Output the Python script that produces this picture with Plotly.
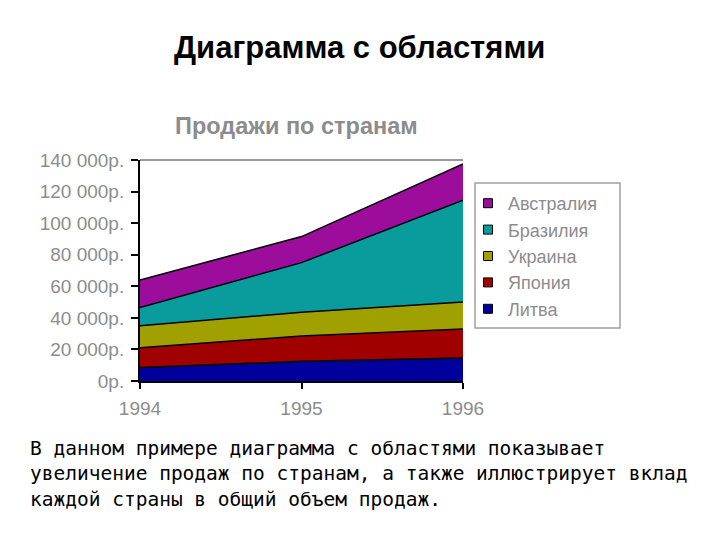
import plotly.graph_objects as go

years = [1994, 1995, 1996]
countries = ["Литва", "Япония", "Украина", "Бразилия", "Австралия"]
litva = [8500, 12500, 14500]
japan = [12500, 16000, 18500]
ukraine = [14000, 15000, 17000]
brazil = [11500, 31500, 64500]
australia = [17500, 16500, 23000]
series = [litva, japan, ukraine, brazil, australia]
colors = ["#00009c", "#a00000", "#a0a000", "#0a9c9c", "#9c0d9c"]

ytick_vals = [0, 20000, 40000, 60000, 80000, 100000, 120000, 140000]
ytick_text = ["0р.", "20 000р.", "40 000р.", "60 000р.", "80 000р.",
              "100 000р.", "120 000р.", "140 000р."]
xtick_text = ["1994", "1995", "1996"]

main_title = "Диаграмма с областями"
chart_title = "Продажи по странам"
caption = ("В данном примере диаграмма с областями показывает<br>"
           "увеличение продаж по странам, а также иллюстрирует вклад<br>"
           "каждой страны в общий объем продаж.")

# page body has an 8px margin; work in reference-pixel coordinates
OFF = 8
W, H = 720 - 2 * OFF, 540 - 2 * OFF
L, R, T, B = 140 - OFF, 463 - OFF, 160 - OFF, 381 - OFF
def px(x):
    return (x - OFF - L) / (R - L)
def py(y):
    return (B - (y - OFF)) / (B - T)

fig = go.Figure()
for name, vals, col in zip(countries, series, colors):
    fig.add_trace(go.Scatter(
        x=years, y=vals, name=name, stackgroup="one", mode="lines",
        line=dict(color="black", width=1.5), fillcolor=col,
        showlegend=False, hoverinfo="x+y+name"))
for name, col in zip(countries, colors):
    fig.add_trace(go.Scatter(
        x=[None], y=[None], name=name, mode="markers",
        marker=dict(symbol="square", size=9, color=col,
                    line=dict(color="black", width=1)),
        showlegend=True))

gray = "#8c8c8c"
fig.update_layout(
    width=W, height=H,
    margin=dict(l=L, r=W - R, t=T, b=H - B, pad=0, autoexpand=False),
    paper_bgcolor="white", plot_bgcolor="white",
    showlegend=True,
    legend=dict(x=px(468), y=py(185), xanchor="left", yanchor="top",
                traceorder="reversed", borderwidth=0,
                font=dict(family="Liberation Sans, Arial", size=18, color=gray),
                itemwidth=30, tracegroupgap=0, bgcolor="rgba(0,0,0,0)"),
    xaxis=dict(range=[1994, 1996], tickvals=years, ticktext=xtick_text,
               showgrid=False, zeroline=False, showline=True,
               linecolor="black", linewidth=2, ticks="outside", ticklen=6,
               tickwidth=2, tickcolor="black", ticklabelstandoff=3,
               tickfont=dict(family="Liberation Sans, Arial", size=19, color=gray)),
    yaxis=dict(range=[0, 140000], tickvals=ytick_vals, ticktext=ytick_text,
               showgrid=False, zeroline=False, showline=True,
               linecolor="black", linewidth=2, ticks="outside", ticklen=7,
               tickwidth=2, tickcolor="black", ticklabelstandoff=3,
               tickfont=dict(family="Liberation Sans, Arial", size=19, color=gray)),
    shapes=[
        dict(type="line", xref="paper", yref="paper", x0=0, x1=1, y0=1, y1=1,
             line=dict(color="#999999", width=2)),
        dict(type="rect", xref="paper", yref="paper", x0=px(475), x1=px(620),
             y0=py(328), y1=py(183), line=dict(color="#a0a0a0", width=1.5)),
    ],
    annotations=[
        dict(text=main_title, xref="paper", yref="paper", x=px(359), y=py(47),
             xanchor="center", yanchor="middle", showarrow=False,
             font=dict(family="Liberation Sans, Arial", size=31, color="black", weight="bold")),
        dict(text=chart_title, xref="paper", yref="paper", x=px(296.5), y=py(126),
             xanchor="center", yanchor="middle", showarrow=False,
             font=dict(family="Liberation Sans, Arial", size=23.5, color=gray, weight="bold")),
        dict(text=caption, xref="paper", yref="paper", x=px(28), y=py(435),
             xanchor="left", yanchor="top", align="left", showarrow=False,
             font=dict(family="DejaVu Sans Mono", size=19.5, color="black")),
    ],
)

fig.write_html("out.html")
